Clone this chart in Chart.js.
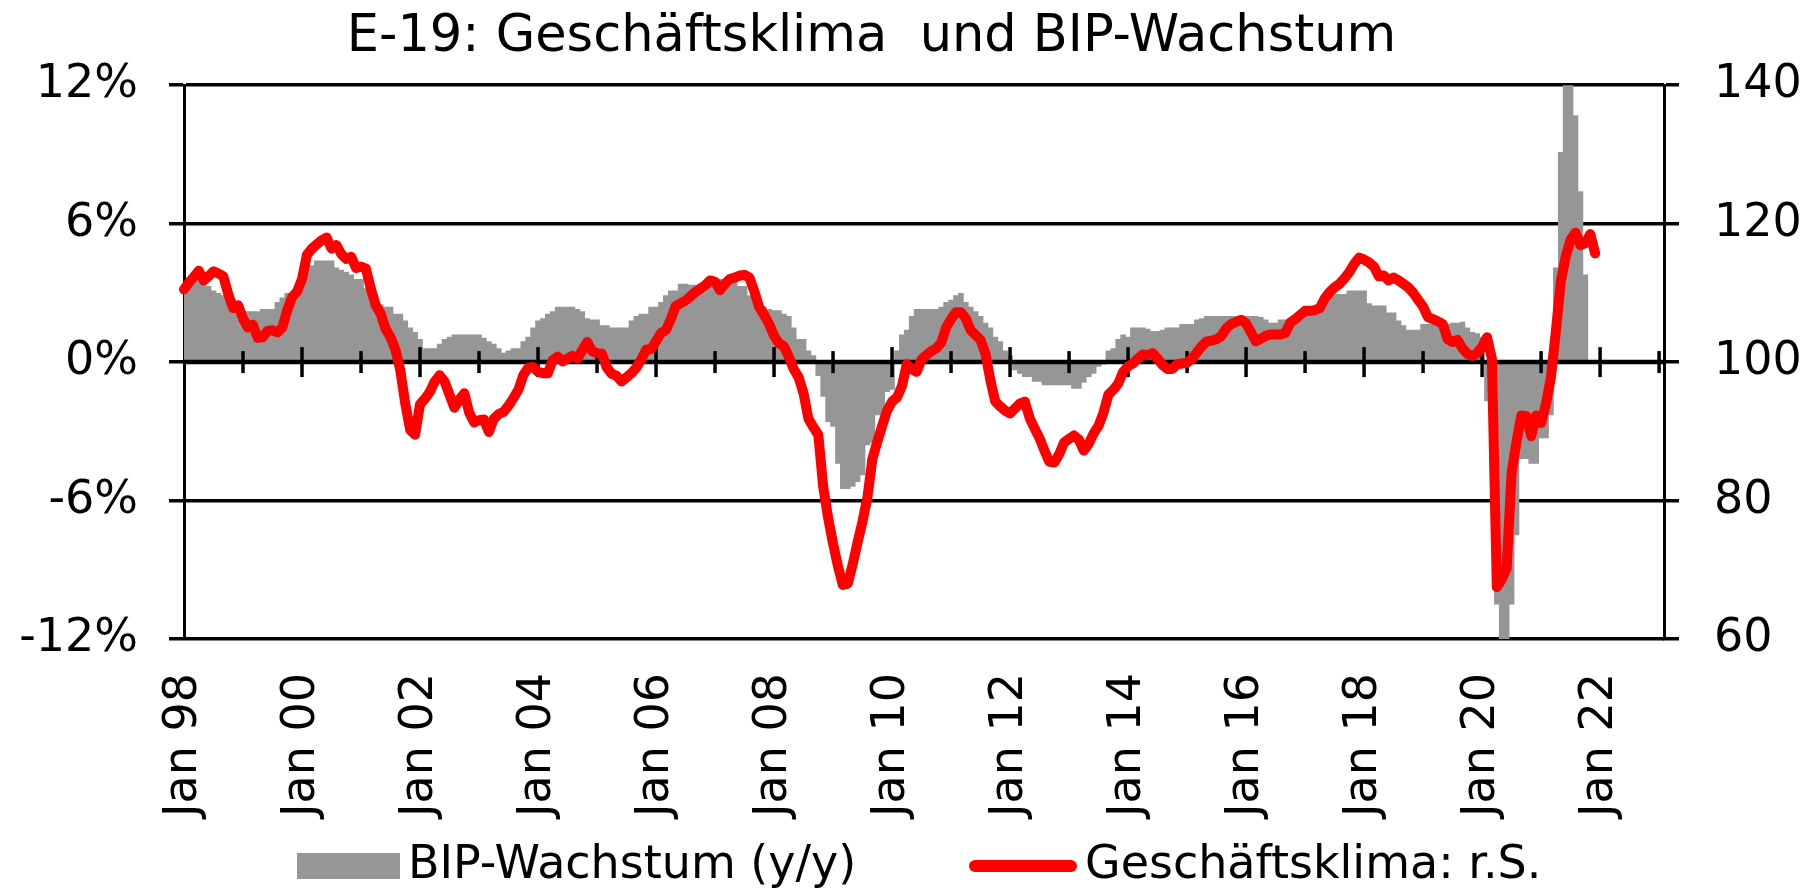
<!DOCTYPE html>
<html>
<head>
<meta charset="utf-8">
<title>E-19: Geschäftsklima und BIP-Wachstum</title>
<script src="https://cdn.jsdelivr.net/npm/chart.js@4.4.0/dist/chart.umd.min.js"></script>
<style>
  html, body { margin: 0; padding: 0; background: #fff; }
  #wrap { width: 1803px; height: 893px; }
</style>
</head>
<body>
<div id="wrap"><canvas id="chart" width="1803" height="893"></canvas></div>
<script>
// categories: monthly, Jan 98 .. Feb 23
const monthNames = ['Jan', 'Feb', 'Mrz', 'Apr', 'Mai', 'Jun', 'Jul', 'Aug', 'Sep', 'Okt', 'Nov', 'Dez'];
const firstYear = 1998;
const monthCount = 302;

// BIP-Wachstum y/y in %, monthly (Jan 98 .. Okt 21)
const bipWachstum = [
  3.4, 3.4, 3.5, 3.5, 3.4, 3.3, 3.1, 3.0, 2.9, 2.6, 2.5, 2.3,
  2.2, 2.2, 2.2, 2.2, 2.3, 2.3, 2.3, 2.6, 2.8, 3.0, 3.0, 3.2,
  3.3, 4.0, 4.2, 4.4, 4.4, 4.4, 4.4, 4.1, 4.0, 3.9, 3.8, 3.6,
  3.6, 3.2, 3.1, 2.7, 2.5, 2.4, 2.4, 2.1, 2.1, 1.8, 1.5, 1.3,
  1.0, 0.6, 0.6, 0.6, 0.8, 1.0, 1.1, 1.2, 1.2, 1.2, 1.2, 1.2,
  1.2, 1.05, 0.9, 0.8, 0.6, 0.4, 0.5, 0.6, 0.6, 0.9, 1.1, 1.5,
  1.8, 1.9, 2.1, 2.2, 2.4, 2.4, 2.4, 2.4, 2.3, 2.2, 1.9, 1.85,
  1.85, 1.6, 1.6, 1.5, 1.5, 1.5, 1.5, 1.8, 2.0, 2.1, 2.1, 2.4,
  2.4, 2.6, 2.9, 3.1, 3.1, 3.4, 3.4, 3.35, 3.35, 3.4, 3.4, 3.5,
  3.6, 3.6, 3.5, 3.5, 3.5, 3.3, 3.3, 2.9, 2.7, 2.5, 2.4, 2.3,
  2.25, 2.25, 2.1, 2.0, 1.5, 1.0, 1.0, 0.5, 0.3, -0.6, -1.5, -2.6,
  -2.8, -4.4, -5.5, -5.5, -5.4, -5.2, -4.9, -3.6, -3.5, -2.3, -2.3, -1.3,
  -1.2, 0.5, 1.2, 1.4, 2.0, 2.3, 2.3, 2.3, 2.3, 2.3, 2.4, 2.6,
  2.7, 2.9, 3.0, 2.6, 2.4, 2.2, 2.0, 1.7, 1.5, 1.1, 0.9, 0.5,
  0.3, -0.35, -0.5, -0.65, -0.65, -0.85, -0.85, -1.0, -1.0, -1.0, -1.0, -1.0,
  -1.0, -1.15, -1.15, -0.9, -0.65, -0.5, -0.2, -0.1, 0.5, 0.6, 1.0, 1.2,
  1.1, 1.5, 1.5, 1.5, 1.45, 1.35, 1.35, 1.4, 1.5, 1.5, 1.5, 1.65,
  1.65, 1.65, 1.85, 1.9, 2.0, 2.0, 2.0, 2.0, 2.0, 2.0, 2.0, 2.0,
  2.0, 2.0, 2.0, 1.95, 1.85, 1.7, 1.7, 1.85, 1.85, 1.9, 2.0, 2.0,
  2.0, 2.2, 2.2, 2.3, 2.6, 2.9, 2.95, 2.95, 2.95, 3.1, 3.1, 3.1,
  3.1, 2.55, 2.45, 2.45, 2.45, 2.15, 2.15, 1.8, 1.6, 1.4, 1.4, 1.4,
  1.65, 1.65, 1.65, 1.65, 1.65, 1.65, 1.7, 1.7, 1.75, 1.5, 1.3, 1.25,
  1.1, -1.7, -3.2, -10.5, -12.5, -12.5, -10.5, -7.5, -4.2, -4.2, -4.4, -4.4,
  -3.3, -3.3, -2.3, 4.1, 9.1, 13.0, 12.5, 10.7, 7.4, 3.8
];

// Geschäftsklima (Index, rechte Skala), monthly (Jan 98 .. Dez 21)
const geschaeftsklima = [
  110.5, 111.5, 112.3, 113.2, 111.8, 112.4, 113.1, 112.8, 112.4, 109.8, 107.8, 108.2,
  106.3, 105.0, 105.4, 103.5, 103.6, 104.5, 104.6, 104.3, 105.0, 107.5, 109.4, 110.2,
  112.0, 115.5, 116.4, 117.0, 117.6, 118.0, 116.4, 116.9, 115.6, 114.9, 115.2, 113.6,
  113.8, 113.5, 110.6, 108.2, 107.0, 104.8, 103.6, 101.8, 98.8, 94.0, 90.2, 89.5,
  93.9, 94.7, 95.7, 97.2, 98.1, 97.2, 95.3, 93.4, 94.6, 95.5, 92.7, 91.3,
  91.6, 91.7, 89.9, 91.8, 92.5, 92.8, 93.7, 94.8, 96.0, 98.1, 99.2, 99.3,
  98.6, 98.4, 98.4, 100.3, 100.8, 100.1, 100.5, 100.9, 100.5, 101.7, 102.9, 101.6,
  101.3, 101.2, 99.2, 98.3, 98.0, 97.2, 97.8, 98.4, 99.2, 100.4, 101.8, 101.9,
  103.0, 104.2, 104.6, 106.2, 108.1, 108.5, 108.9, 109.5, 110.1, 110.6, 111.1, 111.8,
  111.6, 110.4, 111.3, 112.0, 112.2, 112.5, 112.6, 112.2, 110.2, 107.9, 106.8, 105.5,
  103.8, 102.7, 102.3, 100.8, 99.0, 97.8, 95.5, 91.8, 90.6, 89.5, 82.0, 77.5,
  73.8, 70.5, 67.8, 68.0, 70.8, 74.0, 77.0, 80.5, 86.0, 88.5, 90.8, 93.0,
  94.3, 94.9, 96.5, 99.7, 99.0, 98.6, 100.4, 101.0, 101.6, 102.0, 102.8, 105.0,
  106.2, 107.2, 107.2, 106.3, 104.6, 103.9, 103.2, 101.2, 97.4, 94.3, 93.6, 93.0,
  92.6, 93.3, 94.0, 94.3, 91.9, 90.4, 89.0, 87.2, 85.6, 85.5, 86.7, 88.4,
  88.9, 89.4, 88.8, 87.2, 88.2, 89.7, 90.8, 92.7, 95.3, 96.0, 96.9, 98.6,
  99.4, 99.8, 100.5, 101.1, 101.0, 101.3, 100.5, 99.6, 99.0, 99.0, 99.7, 99.8,
  99.9, 100.5, 101.4, 102.3, 103.0, 103.1, 103.3, 103.8, 104.9, 105.5, 105.8, 106.1,
  105.6, 104.3, 103.0, 103.4, 103.8, 104.0, 104.0, 104.0, 104.2, 105.7, 106.2, 106.8,
  107.4, 107.4, 107.5, 107.8, 109.2, 110.1, 110.8, 111.3, 112.1, 113.0, 114.2, 115.1,
  114.8, 114.4, 113.8, 112.4, 112.5, 111.8, 112.2, 111.8, 111.3, 110.8, 110.0, 109.0,
  108.0, 106.5, 106.2, 105.9, 105.5, 103.3, 102.9, 103.2, 102.0, 101.2, 100.9, 101.3,
  102.2, 103.6, 100.5, 67.5, 68.6, 70.2, 84.0, 88.5, 92.3, 92.2, 89.3, 92.3,
  91.2, 94.0, 97.8, 104.4, 111.6, 115.2, 117.7, 118.7, 116.9, 117.2, 118.5, 115.7
];

// axis ranges
const leftTicks = { min: -12, max: 12, step: 6 };
const rightTicks = { min: 60, max: 140, step: 20 };

const months = [];
for (let i = 0; i < monthCount; i++) {
  months.push(monthNames[i % 12] + ' ' + String(firstYear + Math.floor(i / 12)).slice(2));
}

const FONT = "'DejaVu Sans', Verdana, sans-serif";
Chart.defaults.font.family = FONT;
Chart.defaults.font.size = 46;
Chart.defaults.color = '#000';

// x axis line at 0 % with yearly tick marks (between bars and line)
const zeroAxis = {
  id: 'zeroAxis',
  afterDatasetDraw(chart, args) {
    if (args.index !== 0) return;
    const { ctx, chartArea, scales } = chart;
    const y0 = scales.y.getPixelForValue(0);
    ctx.save();
    ctx.strokeStyle = '#000';
    ctx.lineWidth = 4.5;
    ctx.beginPath();
    ctx.moveTo(chartArea.left, y0);
    ctx.lineTo(chartArea.right, y0);
    ctx.stroke();
    ctx.lineWidth = 3.5;
    for (let i = 12; i < monthCount; i += 12) {
      const x = scales.x.getPixelForValue(i);
      const len = i % 24 === 0 ? 15 : 11;
      ctx.beginPath();
      ctx.moveTo(x, y0 - len);
      ctx.lineTo(x, y0 + len);
      ctx.stroke();
    }
    ctx.restore();
  }
};

// legend below the axis labels
const bottomLegend = {
  id: 'bottomLegend',
  afterDraw(chart) {
    const ctx = chart.ctx;
    const [bars, line] = chart.data.datasets;
    const y = 866;
    ctx.save();
    ctx.font = '46px ' + FONT;
    ctx.textBaseline = 'middle';
    ctx.fillStyle = bars.backgroundColor;
    ctx.fillRect(297, 853, 103, 26);
    ctx.fillStyle = '#000';
    ctx.fillText(bars.label, 408, y);
    ctx.strokeStyle = line.borderColor;
    ctx.lineWidth = 12;
    ctx.lineCap = 'round';
    ctx.beginPath();
    ctx.moveTo(975, y);
    ctx.lineTo(1071, y);
    ctx.stroke();
    ctx.fillStyle = '#000';
    ctx.fillText(line.label, 1085, y);
    ctx.restore();
  }
};

new Chart(document.getElementById('chart'), {
  data: {
    labels: months,
    datasets: [{
      type: 'bar',
      label: 'BIP-Wachstum (y/y)',
      data: bipWachstum,
      yAxisID: 'y',
      backgroundColor: '#969696',
      borderWidth: 0,
      barPercentage: 1.15,
      categoryPercentage: 1,
      clip: 0,
      order: 1
    }, {
      type: 'line',
      label: 'Geschäftsklima: r.S.',
      data: geschaeftsklima,
      yAxisID: 'y1',
      borderColor: '#ff0000',
      borderWidth: 10,
      borderJoinStyle: 'round',
      borderCapStyle: 'round',
      pointRadius: 0,
      tension: 0,
      order: 0
    }]
  },
  options: {
    responsive: false,
    devicePixelRatio: 1,
    animation: false,
    // negative left padding moves the title centre left, like the original
    layout: { padding: { left: -60, right: 0, top: 0, bottom: 0 } },
    plugins: {
      legend: { display: false },
      tooltip: { enabled: false },
      title: {
        display: true,
        text: 'E-19: Geschäftsklima  und BIP-Wachstum',
        color: '#000',
        font: { size: 51, weight: 'normal' },
        padding: { top: 7, bottom: 17 }
      }
    },
    scales: {
      x: {
        type: 'category',
        offset: false,
        grid: { display: false, drawTicks: false },
        border: { display: false },
        ticks: {
          autoSkip: false,
          minRotation: 90,
          maxRotation: 90,
          padding: 34,
          callback: function(v, i) {
            return i % 24 === 0 ? this.getLabelForValue(v) : null;
          }
        },
        afterFit(scale) { scale.height = 254; }
      },
      y: {
        position: 'left',
        min: leftTicks.min,
        max: leftTicks.max,
        ticks: {
          stepSize: leftTicks.step,
          padding: 31,
          callback: v => v + '%'
        },
        grid: { color: '#000', lineWidth: 3.5, tickLength: 15 },
        border: { display: true, color: '#000', width: 3 },
        afterFit(scale) { scale.width = 244; }
      },
      y1: {
        position: 'right',
        min: rightTicks.min,
        max: rightTicks.max,
        ticks: { stepSize: rightTicks.step, padding: 35 },
        grid: { drawOnChartArea: false, color: '#000', lineWidth: 3.5, tickLength: 15 },
        border: { display: true, color: '#000', width: 3 },
        afterFit(scale) { scale.width = 139; }
      }
    }
  },
  plugins: [zeroAxis, bottomLegend]
});
</script>
</body>
</html>
